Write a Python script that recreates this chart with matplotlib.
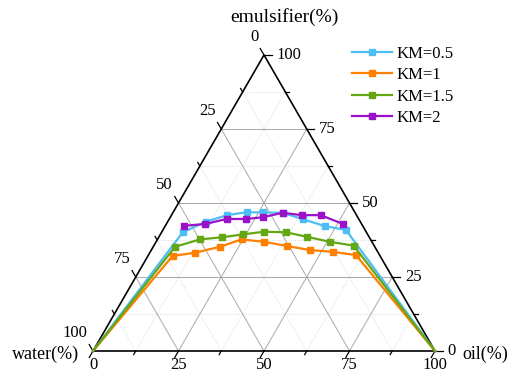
import numpy as np
import matplotlib
matplotlib.use("Agg")
import matplotlib.pyplot as plt
from matplotlib.lines import Line2D

plt.rcParams["font.family"] = ["Liberation Serif", "DejaVu Serif"]

# phase boundary points, (oil %, emulsifier %)
oil_km05 = [0, 6.2, 11.2, 16.3, 21.5, 26.4, 32.1, 39.2, 46.7, 53.5, 100]
emu_km05 = [0, 40.1, 43.7, 45.9, 46.9, 46.8, 46.7, 44.5, 42.2, 40.9, 0]
oil_km1 = [0, 7.2, 13.2, 19.5, 24.6, 31.5, 38.9, 46.4, 53.5, 60.7, 100]
emu_km1 = [0, 32.1, 33.2, 35.2, 37.7, 36.9, 35.5, 34.1, 33.5, 32.4, 0]
oil_km15 = [0, 6.4, 12.4, 18.4, 24.2, 29.9, 36.4, 43.2, 50.8, 58.4, 100]
emu_km15 = [0, 35.2, 37.7, 38.4, 39.4, 40.3, 40.1, 38.6, 36.9, 35.6, 0]
oil_km2 = [5.4, 11.3, 16.8, 22.4, 27.2, 32.1, 38.1, 43.6, 51.7]
emu_km2 = [42.3, 42.9, 44.6, 44.6, 45.2, 46.7, 45.9, 45.9, 42.9]

labels = ["KM=0.5", "KM=1", "KM=1.5", "KM=2"]
colors = ["#4DBEF5", "#FF7F00", "#63A714", "#9B11C9"]
ticks = [0, 25, 50, 75, 100]

H = np.sqrt(3) / 2


def tern(oil, emu):
    oil = np.asarray(oil, float)
    emu = np.asarray(emu, float)
    return oil + emu / 2, emu * H


W, Hp = 512, 374
fig = plt.figure(figsize=(W / 100, Hp / 100), dpi=100)
ax = fig.add_axes([93 / W, (Hp - 351) / Hp, 342 / W, 296 / Hp])
ax.set_xlim(0, 100)
ax.set_ylim(0, 100 * H)
ax.axis("off")

# grid
for k in np.arange(12.5, 100, 12.5):
    major = k % 25 == 0
    kw = dict(color="#a8a8a8", lw=0.7, ls="-") if major else dict(color="#d4d4d4", lw=0.6, ls=(0, (1, 1.5)))
    ax.plot(*tern([0, 100 - k], [k, k]), zorder=1, **kw)
    ax.plot(*tern([k, k], [0, 100 - k]), zorder=1, **kw)
    ax.plot(*tern([100 - k, 0], [0, 100 - k]), zorder=1, **kw)

# frame
ax.plot(*tern([0, 100, 0, 0], [0, 0, 100, 0]), color="k", lw=1.2, zorder=3, clip_on=False)

# ticks
for k in np.arange(0, 100.1, 12.5):
    L = 2.2 if k % 25 == 0 else 1.2
    x, y = tern(k, 0)
    ax.plot([x, x - 0.5 * L], [y, y - H * L], color="k", lw=0.9, clip_on=False, zorder=3)
    x, y = tern(100 - k, k)
    ax.plot([x, x + L], [y, y], color="k", lw=0.9, clip_on=False, zorder=3)
    x, y = tern(0, 100 - k)
    ax.plot([x, x - 0.5 * L], [y, y + H * L], color="k", lw=0.9, clip_on=False, zorder=3)

fs = 12
for t in ticks:
    ax.annotate(str(t), tern(t, 0), xytext=(0, -10), textcoords="offset points",
                ha="center", va="center", fontsize=fs)
    ax.annotate(str(t), tern(100 - t, t), xytext=(9, 0), textcoords="offset points",
                ha="left", va="center", fontsize=fs)
    ax.annotate(str(t), tern(0, 100 - t), xytext=(-4, 13), textcoords="offset points",
                ha="right", va="center", fontsize=fs)

fig.text(284 / W, 1 - 17 / Hp, "emulsifier(%)", ha="center", va="center", fontsize=14)
fig.text(46 / W, 1 - 354 / Hp, "water(%)", ha="center", va="center", fontsize=13)
fig.text(485 / W, 1 - 354 / Hp, "oil(%)", ha="center", va="center", fontsize=13)

series = [(oil_km05, emu_km05), (oil_km1, emu_km1), (oil_km15, emu_km15), (oil_km2, emu_km2)]
for (o, e), c in zip(series, colors):
    me = slice(1, -1) if o[0] == 0 else None
    ax.plot(*tern(o, e), color=c, lw=1.6, marker="s", ms=4.2, markevery=me, zorder=4, clip_on=False)

handles = [Line2D([], [], color=c, lw=1.6, marker="s", ms=4.2) for c in colors]
fig.legend(handles, labels, loc="upper left", bbox_to_anchor=(352 / W, 1 - 46 / Hp),
           frameon=False, fontsize=12, handlelength=2.4, handletextpad=0.25,
           labelspacing=0.32, borderpad=0, borderaxespad=0)

fig.savefig("out.png", dpi=100)
